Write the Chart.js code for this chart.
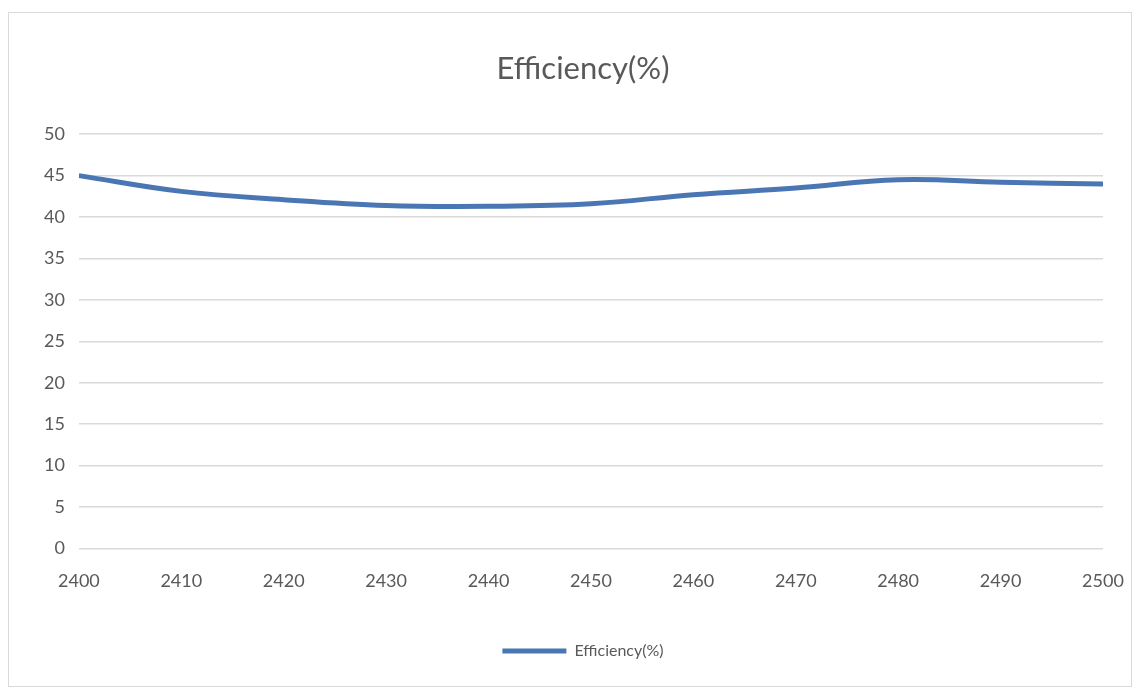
<!DOCTYPE html>
<html>
<head>
<meta charset="utf-8">
<script src="https://cdn.jsdelivr.net/npm/chart.js@4"></script>
<style>
  body { margin: 0; background: #fff; }
  #wrap { position: relative; width: 1136px; height: 689px; }
  #frame { position: absolute; left: 8px; top: 12px; right: 4px; bottom: 2px; border: 1px solid #d9d9d9; }
  canvas { position: absolute; left: 0; top: 0; }
</style>
</head>
<body>
<div id="wrap">
  <div id="frame"></div>
  <canvas id="effChart" width="1136" height="689"></canvas>
</div>
<script>
// frequency (MHz) and efficiency
const freqs = [2400, 2410, 2420, 2430, 2440, 2450, 2460, 2470, 2480, 2490, 2500];
const efficiency = [45.0, 43.1, 42.1, 41.4, 41.3, 41.6, 42.7, 43.5, 44.5, 44.2, 44.0];
const yTicks = [0, 5, 10, 15, 20, 25, 30, 35, 40, 45, 50];

const labelColor = '#595959';
const fontName = 'Lato, "Open Sans", sans-serif';

const canvasElement = document.getElementById('effChart');

let config = {
    type: 'line',
    data: {
        datasets: [{
            label: 'Efficiency(%)',
            data: freqs.map((f, i) => ({ x: f, y: efficiency[i] })),
            borderColor: '#4a76b4',
            backgroundColor: '#4a76b4',
            borderWidth: 5,
            pointRadius: 0,
            pointStyle: 'line',
            tension: 0.4
        }]
    },
    options: {
        responsive: false,
        animation: false,
        layout: { padding: { left: 30, right: 0, top: 24, bottom: 20 } },
        plugins: {
            title: {
                display: true,
                text: 'Efficiency(%)',
                color: labelColor,
                font: { family: fontName, size: 31, weight: 'normal' },
                padding: { top: 26, bottom: 47 }
            },
            legend: {
                position: 'bottom',
                labels: {
                    usePointStyle: true,
                    pointStyleWidth: 64,
                    color: labelColor,
                    font: { family: fontName, size: 16 },
                    padding: 29
                }
            },
            tooltip: { enabled: false }
        },
        scales: {
            x: {
                type: 'linear',
                min: 2400,
                max: 2500,
                afterFit: axis => { axis.paddingRight = 33; },
                ticks: {
                    stepSize: 10,
                    callback: v => String(v),
                    color: labelColor,
                    font: { family: fontName, size: 18 },
                    padding: 22,
                    maxRotation: 0
                },
                grid: { display: false, drawTicks: false },
                border: { display: false }
            },
            y: {
                min: 0,
                max: 50,
                afterBuildTicks: axis => { axis.ticks = yTicks.map(v => ({ value: v })); },
                ticks: {
                    color: labelColor,
                    font: { family: fontName, size: 18 },
                    padding: 14
                },
                grid: { color: '#d9d9d9', lineWidth: 1.5, drawTicks: false },
                border: { display: false }
            }
        }
    }
};

let effChart = new Chart(canvasElement, config);
</script>
</body>
</html>
